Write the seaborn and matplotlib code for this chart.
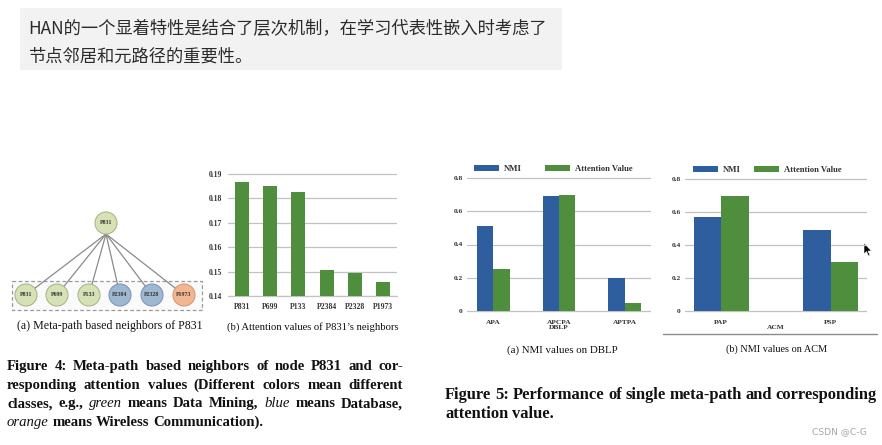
import numpy as np
import pandas as pd
import matplotlib
matplotlib.use("Agg")
import matplotlib.pyplot as plt
import seaborn as sns
from matplotlib.patches import Circle, Rectangle, Polygon

# ---------------- data ----------------
intro_lines = ["HAN的一个显着特性是结合了层次机制，在学习代表性嵌入时考虑了",
               "节点邻居和元路径的重要性。"]
root_node = "P831"
neighbor_nodes = ["P831", "P699", "P133", "P2384", "P2328", "P1973"]
neighbor_classes = ["Data Mining", "Data Mining", "Data Mining",
                    "Database", "Database", "Wireless Communication"]
attention_values = [0.1869, 0.1851, 0.1825, 0.1508, 0.1493, 0.1459]
att_yticks = [0.14, 0.15, 0.16, 0.17, 0.18, 0.19]
series_names = ["NMI", "Attention Value"]
dblp_paths = ["APA", "APCPA", "APTPA"]
dblp_nmi = [0.51, 0.69, 0.20]
dblp_att = [0.25, 0.70, 0.05]
acm_paths = ["PAP", "PSP"]
acm_nmi = [0.57, 0.49]
acm_att = [0.70, 0.30]
nmi_yticks = [0, 0.2, 0.4, 0.6, 0.8]
nmi_yticklabels = ["0", "0.2", "0.4", "0.6", "0.8"]

cap_a4 = "(a) Meta-path based neighbors of P831"
cap_b4 = "(b) Attention values of P831\u2019s neighbors"
cap_a5 = "(a) NMI values on DBLP"
cap_b5 = "(b) NMI values on ACM"
fig4_caption = [
    [("Figure 4: Meta-path based neighbors of node P831 and cor-", "b")],
    [("responding attention values (Different colors mean different", "b")],
    [("classes, e.g.,", "b"), ("green", "i"), ("means Data Mining,", "b"),
     ("blue", "i"), ("means Database,", "b")],
    [("orange", "i"), ("means Wireless Communication).", "b")],
]
fig5_caption = [
    [("Figure 5: Performance of single meta-path and corresponding", "b")],
    [("attention value.", "b")],
]
watermark = "CSDN @C-G"

# ---------------- style ----------------
BLUE = "#2f5e9f"
GREEN = "#4f8e3c"
GRID = "#c2c2c2"
class_colors = {"Data Mining": ("#d7e1b6", "#a9b888"),
                "Database": ("#a0b7d2", "#7f98b8"),
                "Wireless Communication": ("#f2b690", "#d49a72")}

W, H = 882, 445
sns.set_style("white")
plt.rcParams["font.family"] = ["Liberation Serif", "DejaVu Serif"]
SERIF = ["Liberation Serif", "DejaVu Serif"]
CJK = ["Noto Sans CJK SC", "DejaVu Sans"]

fig = plt.figure(figsize=(W / 100, H / 100), dpi=100)
fig.patch.set_facecolor("white")
ov = fig.add_axes([0, 0, 1, 1], zorder=0)
ov.set_xlim(0, W)
ov.set_ylim(H, 0)
ov.axis("off")
R = fig.canvas.get_renderer()


def twidth(t):
    return t.get_window_extent(R).width


def fit(t, target):
    t.set_fontsize(t.get_fontsize() * target / twidth(t))
    return t


# ---------------- intro box ----------------
ov.add_patch(Rectangle((20, 8), 542, 62, facecolor="#f2f2f2", edgecolor="none"))
t1 = ov.text(28, 29, intro_lines[0], family=CJK, fontsize=12, color="#2b2b2b",
             va="center", ha="left")
fit(t1, 519)
ov.text(28, 57, intro_lines[1], family=CJK, fontsize=t1.get_fontsize(),
        color="#2b2b2b", va="center", ha="left")

# ---------------- graph (Fig 4a) ----------------
rx, ry, rr = 106, 223, 11
leaf_x = [26, 57, 89, 120, 152, 184]
leaf_y = 295
ov.add_patch(Rectangle((12, 281), 190, 29, facecolor="#fafafa", edgecolor="#9a9a9a",
                       lw=0.9, ls=(0, (3, 2)), zorder=1))
for lx in leaf_x:
    ov.plot([rx, lx], [ry + rr, leaf_y], color="#8a8a8a", lw=0.9, zorder=2)
fc, ec = class_colors["Data Mining"]
ov.add_patch(Circle((rx, ry), rr, facecolor=fc, edgecolor=ec, lw=0.8, zorder=3))
ov.text(rx, ry, root_node, fontsize=4.2, fontweight="bold", ha="center", va="center",
        color="#333", zorder=4)
for lx, name, cls in zip(leaf_x, neighbor_nodes, neighbor_classes):
    fc, ec = class_colors[cls]
    ov.add_patch(Circle((lx, leaf_y), rr, facecolor=fc, edgecolor=ec, lw=0.8, zorder=3))
    ov.text(lx, leaf_y, name, fontsize=4.2, fontweight="bold", ha="center",
            va="center", color="#333", zorder=4)


# ---------------- chart helpers ----------------
def chart_axes(x0, x1, p_lo, p_hi, vlo, vhi, pad_top=3, pad_bot=3):
    scale = (vhi - vlo) / (p_lo - p_hi)
    top = p_hi - pad_top
    bot = p_lo + pad_bot
    ax = fig.add_axes([x0 / W, 1 - bot / H, (x1 - x0) / W, (bot - top) / H], zorder=2)
    ax.set_facecolor("none")
    ax.set_ylim(vlo - pad_bot * scale, vhi + pad_top * scale)
    for s in ax.spines.values():
        s.set_visible(False)
    ax.yaxis.grid(True, color=GRID, lw=0.9)
    ax.xaxis.grid(False)
    ax.set_axisbelow(True)
    return ax


def style_ticks(ax, size, ypad, xpad):
    ax.tick_params(axis="both", length=0, labelsize=size, colors="#333")
    ax.tick_params(axis="y", pad=ypad)
    ax.tick_params(axis="x", pad=xpad)
    for lab in ax.get_xticklabels() + ax.get_yticklabels():
        lab.set_fontweight("bold")
        lab.set_family(SERIF)


# ---------------- Fig 4b ----------------
ax4 = chart_axes(228, 397, 296, 174, 0.14, 0.19, pad_top=3, pad_bot=0)
sns.barplot(x=neighbor_nodes, y=attention_values, color=GREEN, width=0.5,
            saturation=1, linewidth=0, ax=ax4)
ax4.set_xlim(-0.5, len(neighbor_nodes) - 0.5)
ax4.set_yticks(att_yticks)
ax4.set_yticklabels([f"{v:.2f}" for v in att_yticks])
ax4.axhline(0.14, color=GRID, lw=0.9, clip_on=False, zorder=0.5)
ax4.set_xlabel("")
ax4.set_ylabel("")
style_ticks(ax4, 5.5, 4, 5)


# ---------------- Fig 5 ----------------
def nmi_chart(x0, x1, p0, p8, paths, nmi, att, xlim, xlabel, leg_xy, colsp):
    ax = chart_axes(x0, x1, p0, p8, 0.0, 0.8)
    df = pd.DataFrame({"path": paths * 2,
                       "metric": [series_names[0]] * len(paths) + [series_names[1]] * len(paths),
                       "value": list(nmi) + list(att)})
    sns.barplot(data=df, x="path", y="value", hue="metric", hue_order=series_names,
                palette=[BLUE, GREEN], width=0.5, saturation=1, linewidth=0,
                gap=0, ax=ax)
    ax.set_xlim(*xlim)
    ax.set_yticks(nmi_yticks)
    ax.set_yticklabels(nmi_yticklabels)
    ax.set_ylabel("")
    ax.set_xlabel(xlabel, fontsize=5.3, fontweight="bold", family=SERIF,
                  color="#333", labelpad=0.3)
    style_ticks(ax, 5.3, 3, 4)
    h, l = ax.get_legend_handles_labels()
    ax.get_legend().remove()
    leg = ax.legend(h, l, loc="center left", ncol=2, frameon=False,
                    bbox_to_anchor=(leg_xy[0] / W, 1 - leg_xy[1] / H),
                    bbox_transform=fig.transFigure, borderaxespad=0, borderpad=0,
                    handlelength=2.9, handleheight=0.75, handletextpad=0.6,
                    columnspacing=colsp,
                    prop={"family": SERIF, "weight": "bold", "size": 6.2})
    for tx in leg.get_texts():
        tx.set_color("#333")
    return ax


ax5a = nmi_chart(467, 651, 311, 178, dblp_paths, dblp_nmi, dblp_att,
                 (-0.4, 2.4), "DBLP", (474, 169), 2.7)
ax5b = nmi_chart(685, 867, 311, 179, acm_paths, acm_nmi, acm_att,
                 (-0.33, 1.33), "ACM", (693, 170), 1.5)
ov.plot([663, 877], [334, 334], color="#8c8c8c", lw=1.0)

# ---------------- sub-captions ----------------
for s, cx, cy, wdt in [(cap_a4, 110, 326, 184), (cap_b4, 313, 327, 171),
                       (cap_a5, 562, 350, 111), (cap_b5, 776, 349, 102)]:
    t = ov.text(cx, cy, s, fontsize=8, family=SERIF, color="#111",
                ha="center", va="center")
    fit(t, wdt)


# ---------------- figure captions ----------------
def words_of(line):
    out = []
    for seg, st in line:
        for w in seg.split(" "):
            out.append((w, st))
    return out


def draw_caption(lines, x0, x1, y0, dy, size):
    for i, line in enumerate(lines):
        objs = []
        for w, st in words_of(line):
            kw = dict(fontweight="bold") if st == "b" else dict(fontstyle="italic")
            objs.append(ov.text(0, y0 + i * dy, w, fontsize=size, family=SERIF,
                                color="#111", ha="left", va="baseline", **kw))
        ws = [twidth(t) for t in objs]
        last = i == len(lines) - 1
        if not last and len(objs) > 1:
            gap = (x1 - x0 - sum(ws)) / (len(objs) - 1)
        else:
            gap = size * 100 / 72 * 0.25
        x = x0
        for t, w in zip(objs, ws):
            t.set_x(x)
            x += w + gap


def natural_width(line, size):
    objs = []
    for w, st in words_of(line):
        kw = dict(fontweight="bold") if st == "b" else dict(fontstyle="italic")
        objs.append(ov.text(0, 0, w, fontsize=size, family=SERIF, **kw))
    tot = sum(twidth(t) for t in objs) + (len(objs) - 1) * size * 100 / 72 * 0.25
    for t in objs:
        t.remove()
    return tot


s4 = 10 * 258 / natural_width(fig4_caption[-1], 10)
draw_caption(fig4_caption, 7, 403, 370, 18.7, s4)
s5 = 10 * 110 / natural_width(fig5_caption[-1], 10)
draw_caption(fig5_caption, 445, 877, 399, 19, s5)

tw = ov.text(812, 432, watermark, fontsize=6.5, family=["DejaVu Sans"], color="#a8a8a8",
             ha="left", va="center")
fit(tw, 55)

# mouse cursor from the screenshot
ov.add_patch(Polygon([(864, 243), (864, 254), (866.5, 251.5), (868.5, 256), (870, 255.3),
                      (868, 251), (871.5, 251)], closed=True, facecolor="black",
                     edgecolor="white", lw=0.4, zorder=5))

fig.savefig("out.png", dpi=100, facecolor="white")
